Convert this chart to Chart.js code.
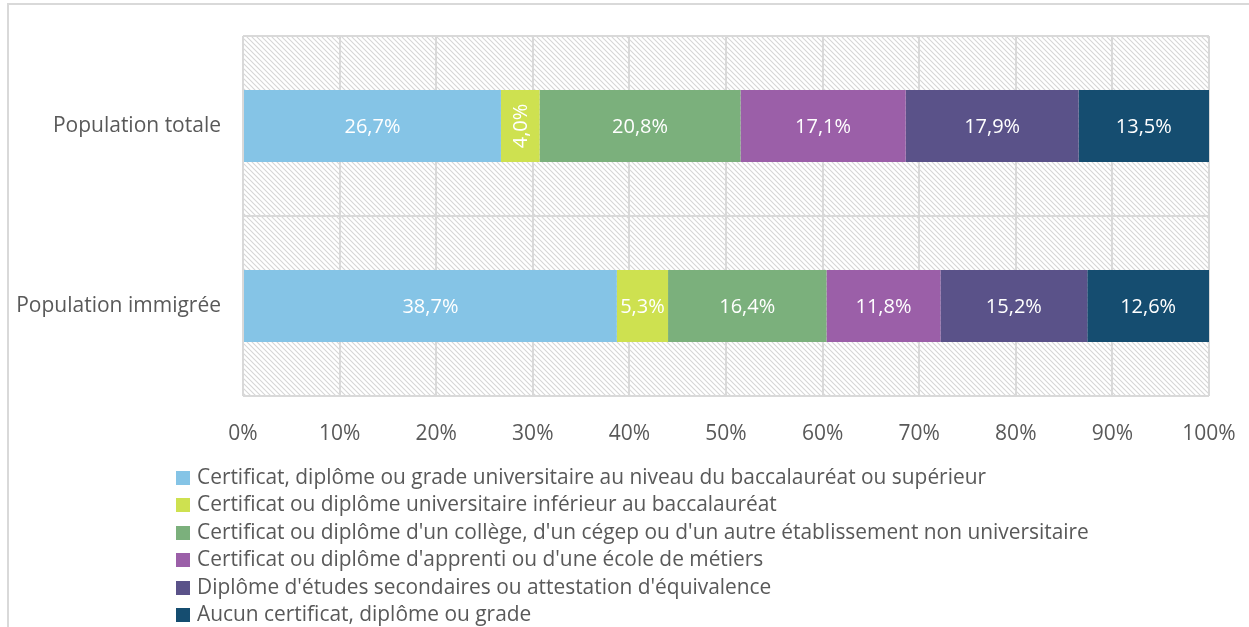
<!DOCTYPE html>
<html>
<head>
<meta charset="utf-8">
<script src="https://cdn.jsdelivr.net/npm/chart.js@4"></script>
<style>
    html, body { margin: 0; padding: 0; background: #fff; }
    .wrap { position: relative; width: 1249px; height: 627px; overflow: hidden; }
    .frame {
        position: absolute; left: 7px; top: 3px; width: 1250px; height: 640px;
        border-top: 2px solid #d9d9d9; border-left: 2px solid #d9d9d9;
    }
    canvas { position: absolute; left: 0; top: 0; }
    .legend {
        position: absolute; left: 176px; top: 463px;
        font-family: "Open Sans", sans-serif; font-size: 20.9px; color: #595959;
    }
    .legend div { height: 27.4px; line-height: 27.4px; white-space: nowrap; }
    .legend span {
        display: inline-block; width: 14px; height: 14px; margin-right: 7px;
        vertical-align: -1px;
    }
</style>
</head>
<body>
<div class="wrap">
    <div class="frame"></div>
    <canvas id="chart" width="1249" height="627"></canvas>
    <div class="legend" id="legend"></div>
</div>
<script>
const categories = ['Population totale', 'Population immigrée'];
const seriesNames = [
    "Certificat, diplôme ou grade universitaire au niveau du baccalauréat ou supérieur",
    "Certificat ou diplôme universitaire inférieur au baccalauréat",
    "Certificat ou diplôme d'un collège, d'un cégep ou d'un autre établissement non universitaire",
    "Certificat ou diplôme d'apprenti ou d'une école de métiers",
    "Diplôme d'études secondaires ou attestation d'équivalence",
    "Aucun certificat, diplôme ou grade"
];
const universitaire = [26.7, 38.7];
const inferieurBac = [4.0, 5.3];
const college = [20.8, 16.4];
const apprenti = [17.1, 11.8];
const secondaires = [17.9, 15.2];
const aucun = [13.5, 12.6];
const seriesColors = ['#85C4E6', '#CEE150', '#7BB07C', '#9B5FA8', '#5A5289', '#154D70'];
const tickValues = [0, 10, 20, 30, 40, 50, 60, 70, 80, 90, 100];

const seriesData = [universitaire, inferieurBac, college, apprenti, secondaires, aucun];

// hatched background of the plot area
const hatch = (() => {
    const c = document.createElement('canvas');
    c.width = 5; c.height = 5;
    const g = c.getContext('2d');
    g.strokeStyle = '#d6d6d6';
    g.lineWidth = 1.1;
    g.beginPath();
    g.moveTo(-1, -1); g.lineTo(6, 6);
    g.moveTo(-1, 4); g.lineTo(1, 6);
    g.moveTo(4, -1); g.lineTo(6, 1);
    g.stroke();
    return g.createPattern(c, 'repeat');
})();

const hatchPlugin = {
    id: 'hatch',
    beforeDraw(chart) {
        const a = chart.chartArea;
        const ctx = chart.ctx;
        ctx.save();
        ctx.fillStyle = hatch;
        ctx.fillRect(a.left, a.top, a.right - a.left, a.bottom - a.top);
        ctx.restore();
    }
};

const valueLabels = {
    id: 'valueLabels',
    afterDatasetsDraw(chart) {
        const ctx = chart.ctx;
        ctx.save();
        ctx.fillStyle = '#ffffff';
        ctx.font = '20px "Open Sans", sans-serif';
        ctx.textAlign = 'center';
        ctx.textBaseline = 'middle';
        chart.data.datasets.forEach((ds, i) => {
            chart.getDatasetMeta(i).data.forEach((bar, j) => {
                const txt = ds.data[j].toFixed(1).replace('.', ',') + '%';
                const w = Math.abs(bar.x - bar.base);
                const x = (bar.x + bar.base) / 2;
                if (ctx.measureText(txt).width > w) {
                    ctx.save();
                    ctx.translate(x, bar.y);
                    ctx.rotate(-Math.PI / 2);
                    ctx.fillText(txt, 0, 1);
                    ctx.restore();
                } else {
                    ctx.fillText(txt, x, bar.y + 1);
                }
            });
        });
        ctx.restore();
    }
};

const chart = new Chart(document.getElementById('chart'), {
    type: 'bar',
    data: {
        labels: categories,
        datasets: seriesNames.map((name, i) => ({
            label: name,
            data: seriesData[i],
            backgroundColor: seriesColors[i],
            borderWidth: 0,
            categoryPercentage: 0.4,
            barPercentage: 1
        }))
    },
    options: {
        indexAxis: 'y',
        responsive: false,
        animation: false,
        layout: { padding: { left: 8, right: 40, top: 36, bottom: 171 } },
        plugins: {
            legend: { display: false },
            tooltip: { enabled: false }
        },
        scales: {
            x: {
                stacked: true,
                min: 0,
                max: 100,
                afterBuildTicks: scale => { scale.ticks = tickValues.map(v => ({ value: v })); },
                afterFit: scale => {
                    scale.height = 60;
                    scale.paddingLeft = 0;
                    scale.paddingRight = 0;
                },
                ticks: {
                    callback: v => v + '%',
                    color: '#595959',
                    font: { family: 'Open Sans', size: 21 },
                    padding: 25,
                    maxRotation: 0
                },
                grid: { color: '#d9d9d9', lineWidth: 2, drawTicks: false },
                border: { display: false }
            },
            y: {
                stacked: true,
                afterFit: scale => { scale.width = 235; },
                ticks: {
                    color: '#595959',
                    font: { family: 'Open Sans', size: 21 },
                    padding: 22
                },
                grid: { color: '#d9d9d9', lineWidth: 2, drawTicks: false, offset: true },
                border: { display: false }
            }
        }
    },
    plugins: [hatchPlugin, valueLabels]
});

// legend as a vertical list
const legendBox = document.getElementById('legend');
chart.data.datasets.forEach(ds => {
    const row = document.createElement('div');
    const sw = document.createElement('span');
    sw.style.background = ds.backgroundColor;
    row.appendChild(sw);
    row.appendChild(document.createTextNode(ds.label));
    legendBox.appendChild(row);
});
</script>
</body>
</html>
